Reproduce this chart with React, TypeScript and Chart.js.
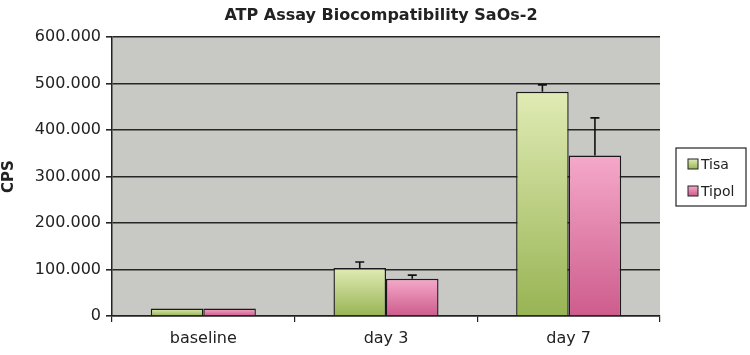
import React, { useEffect, useRef } from "react";
import { Chart, registerables } from "chart.js";

Chart.register(...registerables);

const categories = ["baseline", "day 3", "day 7"];
const tisaValues = [16000, 103000, 482000];
const tisaErrors = [0, 13000, 15000];
const tipolValues = [16000, 80000, 345000];
const tipolErrors = [0, 8000, 81000];
const seriesNames = ["Tisa", "Tipol"];
const yTicks = [0, 100000, 200000, 300000, 400000, 500000, 600000];
const titleText = "ATP Assay Biocompatibility SaOs-2";
const yTitle = "CPS";

const FONT = "'DejaVu Sans', sans-serif";

function fmt(v: number) {
  const s = Math.round(v).toString();
  return s.replace(/\B(?=(\d{3})+(?!\d))/g, ".");
}

function makeGrad(ctx: CanvasRenderingContext2D, top: number, bottom: number, c1: string, c2: string) {
  const g = ctx.createLinearGradient(0, top, 0, bottom);
  g.addColorStop(0, c1);
  g.addColorStop(1, c2);
  return g;
}

const greenTop = "#e0ebb4";
const greenBot = "#98b454";
const pinkTop = "#f5a9ca";
const pinkBot = "#cd5c8c";

function barFill(c: any, top: string, bot: string) {
  const chart = c.chart;
  const ys = chart.scales && chart.scales.y;
  if (!ys || c.dataIndex === undefined || !chart.chartArea) return bot;
  const v = c.dataset.data[c.dataIndex];
  const yt = ys.getPixelForValue(v);
  const yb = ys.getPixelForValue(0);
  if (!isFinite(yt) || !isFinite(yb) || yb - yt < 1) return bot;
  return makeGrad(chart.ctx, yt, yb, top, bot);
}

export default function App() {
  const ref = useRef<HTMLCanvasElement | null>(null);
  useEffect(() => {
    document.body.style.margin = "0";
    const canvas = ref.current!;
    const errs = [tisaErrors, tipolErrors];

    const bgPlugin = {
      id: "bg",
      beforeDraw(chart: any) {
        const { ctx, chartArea } = chart;
        ctx.save();
        ctx.fillStyle = "#c8c8c5";
        ctx.fillRect(chartArea.left, chartArea.top, chartArea.right - chartArea.left, chartArea.bottom - chartArea.top);
        ctx.restore();
      },
    };

    const errPlugin = {
      id: "err",
      afterDatasetsDraw(chart: any) {
        const { ctx } = chart;
        const y = chart.scales.y;
        ctx.save();
        ctx.strokeStyle = "#111";
        ctx.lineWidth = 1.6;
        chart.data.datasets.forEach((ds: any, di: number) => {
          const meta = chart.getDatasetMeta(di);
          meta.data.forEach((el: any, i: number) => {
            const e = errs[di][i];
            if (!e) return;
            const yTop = y.getPixelForValue(ds.data[i] + e);
            ctx.beginPath();
            ctx.moveTo(el.x, el.y);
            ctx.lineTo(el.x, yTop);
            ctx.moveTo(el.x - 4.5, yTop);
            ctx.lineTo(el.x + 4.5, yTop);
            ctx.stroke();
          });
        });
        ctx.restore();
      },
    };

    const decoPlugin = {
      id: "deco",
      afterDraw(chart: any) {
        const { ctx } = chart;
        ctx.save();
        ctx.fillStyle = "#222";
        ctx.font = `bold 16px ${FONT}`;
        ctx.textAlign = "center";
        ctx.textBaseline = "middle";
        ctx.fillText(titleText, 381, 16);
        const lx = 676, ly = 148, lw = 70, lh = 58;
        ctx.fillStyle = "#ffffff";
        ctx.fillRect(lx, ly, lw, lh);
        ctx.strokeStyle = "#222";
        ctx.lineWidth = 1.2;
        ctx.strokeRect(lx, ly, lw, lh);
        const cols = [[greenTop, greenBot], [pinkTop, pinkBot]];
        const ys = [164, 191];
        ctx.font = `14px ${FONT}`;
        ctx.textAlign = "left";
        ctx.textBaseline = "middle";
        seriesNames.forEach((n, i) => {
          const sy = ys[i] - 5;
          ctx.fillStyle = makeGrad(ctx, sy, sy + 10, cols[i][0], cols[i][1]);
          ctx.fillRect(688, sy, 10, 10);
          ctx.strokeStyle = "#222";
          ctx.lineWidth = 1;
          ctx.strokeRect(688, sy, 10, 10);
          ctx.fillStyle = "#222";
          ctx.fillText(n, 701, ys[i] + 1);
        });
        ctx.restore();
      },
    };

    const chart = new Chart(canvas, {
      type: "bar",
      data: {
        labels: categories,
        datasets: [
          {
            label: seriesNames[0],
            data: tisaValues,
            backgroundColor: (c: any) => barFill(c, greenTop, greenBot),
            borderColor: "#1a1a1a",
            borderWidth: 1.4,
            categoryPercentage: 0.575,
            barPercentage: 1,
          },
          {
            label: seriesNames[1],
            data: tipolValues,
            backgroundColor: (c: any) => barFill(c, pinkTop, pinkBot),
            borderColor: "#1a1a1a",
            borderWidth: 1.4,
            categoryPercentage: 0.575,
            barPercentage: 1,
          },
        ],
      },
      options: {
        animation: false,
        responsive: false,
        layout: { padding: { top: 37, right: 90, left: 0, bottom: 0 } },
        plugins: { legend: { display: false }, title: { display: false }, tooltip: { enabled: false } },
        scales: {
          x: {
            afterFit: (s: any) => { s.height = 39; },
            grid: { offset: true, drawOnChartArea: false, color: "#222", tickLength: 6, lineWidth: 1.2 },
            border: { color: "#222", width: 1.5 },
            ticks: { color: "#222", font: { family: FONT, size: 16 }, padding: 7 },
          },
          y: {
            min: 0,
            max: 600000,
            afterFit: (s: any) => { s.width = 112; },
            afterBuildTicks: (s: any) => { s.ticks = yTicks.map((v) => ({ value: v })); },
            grid: { color: "#262626", lineWidth: 1.6, tickLength: 6 },
            border: { color: "#222", width: 1.5 },
            ticks: { color: "#222", font: { family: FONT, size: 16 }, padding: 5, callback: (v: any) => fmt(Number(v)) },
            title: { display: true, text: yTitle, color: "#222", font: { family: FONT, size: 15, weight: "bold" }, padding: 0 },
          },
        },
      } as any,
      plugins: [bgPlugin, errPlugin, decoPlugin],
    });
    return () => chart.destroy();
  }, []);
  return (
    <div style={{ width: 750, height: 355, background: "#fff" }}>
      <canvas ref={ref} width={750} height={355} style={{ display: "block" }} />
    </div>
  );
}
